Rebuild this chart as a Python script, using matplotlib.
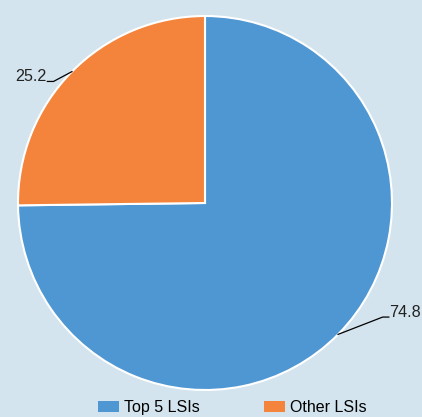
import numpy as np
import matplotlib.pyplot as plt
from matplotlib.patches import Patch

plt.rcParams["font.family"] = ["Liberation Sans", "DejaVu Sans"]
plt.rcParams["font.size"] = 12

# data
labels = ["Top 5 LSIs", "Other LSIs"]
shares = [74.8, 25.2]
colors = ["#4f97d3", "#f4843b"]
bg = "#d3e4ee"

fig = plt.figure(figsize=(4.22, 4.17), dpi=100, facecolor=bg)
ax = fig.add_axes([18 / 422, 27 / 417, 374 / 422, 374 / 417])
ax.set_facecolor(bg)

wedges, _ = ax.pie(shares, colors=colors, startangle=90, counterclock=False,
                   radius=1.0, wedgeprops=dict(edgecolor="white", linewidth=1.5))
ax.set_xlim(-1, 1)
ax.set_ylim(-1, 1)
ax.set_aspect("equal")
ax.axis("off")

# value labels with bent leader lines (elbow positions per side)
elbows = {1: (0.95, -0.61), -1: (-0.81, 0.65)}
for w, val in zip(wedges, shares):
    ang = np.deg2rad((w.theta1 + w.theta2) / 2)
    x0, y0 = np.cos(ang), np.sin(ang)
    side = int(np.sign(x0))
    ex, ey = elbows[side]
    tx = ex + 0.033 * side
    ax.plot([x0, ex, tx], [y0, ey, ey], color="black", lw=0.9, clip_on=False)
    ax.text(tx + 0.004 * side, ey, f"{val:.1f}", ha="left" if side > 0 else "right",
            va="baseline", fontsize=11.6, color="#222222")

handles = [Patch(facecolor=c, edgecolor="none") for c in colors]
fig.legend(handles, labels, loc="center", bbox_to_anchor=(0.55, 0.022), ncol=2,
           frameon=False, fontsize=11.5, handlelength=1.35, handleheight=0.7,
           handletextpad=0.3, columnspacing=4.0, borderpad=0.0)

fig.savefig("out.png", dpi=100, facecolor=bg)
